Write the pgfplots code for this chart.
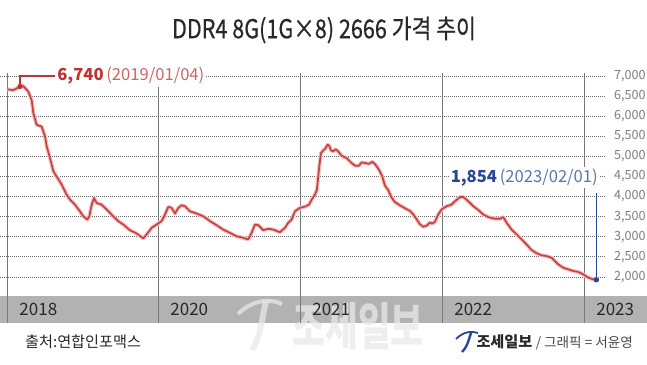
\documentclass[border=0pt]{standalone}
\usepackage{fontspec}
\setmainfont{Noto Sans CJK KR}
\newfontfamily\titlefont[FakeBold=0.6]{Noto Sans CJK KR}
\usepackage{pgfplots}
\usepackage{pgfplotstable}
\pgfplotsset{compat=1.18}
\definecolor{linered}{RGB}{200,65,65}
\definecolor{glow}{RGB}{242,195,195}
\definecolor{annred}{RGB}{190,50,50}
\definecolor{annblue}{RGB}{40,70,150}
\definecolor{bandgray}{RGB}{178,178,178}
\definecolor{vgray}{RGB}{120,120,120}
\definecolor{dotgray}{RGB}{105,105,105}
\definecolor{tickgray}{RGB}{125,125,125}
\definecolor{textdark}{RGB}{40,40,40}

\pgfplotstableread{
year price
2018.937 6669
2018.979 6650
2019.002 6690
2019.026 6740
2019.049 6750
2019.085 6610
2019.108 6400
2019.120 6075
2019.143 5785
2019.178 5745
2019.202 5500
2019.214 5250
2019.237 4960
2019.261 4630
2019.284 4500
2019.319 4300
2019.354 4050
2019.378 3925
2019.413 3800
2019.448 3635
2019.472 3510
2019.500 3430
2019.514 3510
2019.531 3800
2019.547 3965
2019.566 3840
2019.601 3800
2019.636 3680
2019.683 3510
2019.718 3390
2019.754 3305
2019.800 3165
2019.847 3085
2019.871 3020
2019.894 2960
2019.918 3060
2019.953 3225
2019.988 3305
2020.023 3390
2020.047 3555
2020.070 3745
2020.094 3720
2020.117 3580
2020.141 3720
2020.164 3785
2020.188 3760
2020.223 3635
2020.270 3580
2020.317 3510
2020.364 3390
2020.410 3290
2020.457 3180
2020.504 3100
2020.551 3015
2020.598 2975
2020.633 2935
2020.657 3100
2020.680 3305
2020.704 3290
2020.739 3165
2020.774 3200
2020.810 3180
2020.856 3115
2020.892 3225
2020.915 3350
2020.939 3430
2020.962 3635
2020.997 3720
2021.033 3750
2021.061 3800
2021.080 3925
2021.103 4050
2021.117 4170
2021.131 4670
2021.145 5080
2021.162 5150
2021.178 5205
2021.192 5290
2021.204 5265
2021.216 5150
2021.232 5125
2021.248 5180
2021.267 5125
2021.291 5015
2021.326 4960
2021.361 4835
2021.385 4770
2021.413 4770
2021.432 4850
2021.460 4835
2021.483 4815
2021.507 4865
2021.525 4815
2021.554 4670
2021.577 4505
2021.596 4275
2021.619 4165
2021.643 3975
2021.666 3865
2021.701 3785
2021.737 3710
2021.772 3645
2021.795 3560
2021.819 3440
2021.842 3315
2021.866 3250
2021.889 3275
2021.913 3355
2021.929 3330
2021.948 3370
2021.971 3555
2021.995 3680
2022.030 3760
2022.065 3800
2022.089 3885
2022.125 3990
2022.148 3990
2022.183 3885
2022.219 3760
2022.254 3665
2022.289 3555
2022.324 3490
2022.371 3450
2022.406 3450
2022.430 3490
2022.453 3350
2022.488 3180
2022.524 3060
2022.559 2935
2022.594 2810
2022.629 2670
2022.665 2590
2022.700 2540
2022.735 2520
2022.770 2480
2022.794 2395
2022.817 2315
2022.852 2230
2022.888 2190
2022.923 2150
2022.958 2125
2022.993 2065
2023.028 1985
2023.064 1940
2023.085 1930
}\pricedata

\begin{document}
\begin{tikzpicture}[x=0.5pt,y=0.5pt]
\useasboundingbox (0,0) rectangle (647,364);
% gray band
\fill[bandgray] (0,41) rectangle (647,68);
% watermark (behind axis content)
\node[text=white!82!gray, opacity=0.75, font=\fontsize{17}{17}\selectfont\bfseries] at (358,38) {\scalebox{1.05}[1.5]{조세일보}};
\draw[white!82!gray, opacity=0.75, line width=3pt] (252,14) .. controls (262,30) and (262,50) .. (266,62);
\draw[white!82!gray, opacity=0.75, line width=2pt] (238,50) .. controls (252,64) and (270,66) .. (282,60);
% title
\node[textdark, font=\titlefont\fontsize{13}{15}\selectfont] at (324,334) {\scalebox{0.83}[1]{DDR4 8G(1G×8) 2666 가격 추이}};

\begin{axis}[
  at={(0pt,20.5pt)}, anchor=south west,
  scale only axis, width=302.5pt, height=125pt,
  xmin=2018.885, xmax=2023.146,
  ymin=856, ymax=7075,
  clip=false,
  axis line style={draw=none},
  major tick length=0pt,
  xtick={2018.937,2020,2021,2022,2023},
  xticklabels={},
  xmajorgrids,
  x grid style={vgray, line width=0.5pt},
  ytick={2000,2500,...,7000},
  ymajorgrids,
  y grid style={dotgray, line width=0.5pt, dash pattern=on 0.5pt off 0.5pt},
  yticklabel pos=right,
  yticklabel style={tickgray, font=\fontsize{6.3}{7}\selectfont, anchor=west, xshift=1pt},
  /pgf/number format/.cd, fixed, precision=0, 1000 sep={,}, assume math mode=true,
]
\addplot[glow, line width=2pt, line join=round] table[x=year,y=price] {\pricedata};
\addplot[linered, line width=0.85pt, line join=round] table[x=year,y=price] {\pricedata};

% red annotation
\draw[annred, line width=0.6pt] (axis cs:2019.026,6740) -- (axis cs:2019.026,7000) -- (axis cs:2019.272,7000);
\node[anchor=west, fill=white, inner sep=1pt, font=\fontsize{8.3}{9}\selectfont] at (axis cs:2019.272,7000)
  {\textcolor{annred}{\bfseries 6,740}\,\textcolor{annred!75}{(2019/01/04)}};
\addplot[only marks, mark=*, mark size=1.1pt, annred] coordinates {(2019.026,6740)};

% blue annotation
\draw[annblue, line width=0.6pt] (axis cs:2023.085,1930) -- (axis cs:2023.085,4090);
\node[anchor=east, fill=white, inner sep=1pt, font=\fontsize{8.3}{9}\selectfont] at (axis cs:2023.112,4470)
  {\textcolor{annblue}{\bfseries 1,854}\,\textcolor{annblue!75}{(2023/02/01)}};
\addplot[only marks, mark=*, mark size=1.1pt, annblue] coordinates {(2023.085,1930)};

% year labels in band
\foreach \xx/\lab in {2018.937/2018, 2020/2020, 2021/2021, 2022/2022, 2023/2023}{
  \edef\tmp{\noexpand\node[anchor=west, textdark, xshift=2.5pt, font=\noexpand\fontsize{8.5}{9}\noexpand\selectfont] at (axis cs:\xx,1204) {\lab};}
  \tmp
}
\end{axis}

% footer
\node[anchor=west, textdark, font=\fontsize{7.6}{9}\selectfont] at (18,22) {출처:연합인포맥스};
\draw[annblue, line width=1.2pt] (462,12) .. controls (468,18) and (469,26) .. (471,31);
\draw[annblue, line width=0.9pt] (456,25) .. controls (464,33) and (472,33) .. (478,31);
\node[anchor=east, font=\fontsize{7.6}{9}\selectfont] at (640,22)
  {\textcolor{textdark}{\bfseries 조세일보}\ \textcolor{textdark!85}{\fontsize{6.8}{8}\selectfont / 그래픽 = 서윤영}};
\end{tikzpicture}
\end{document}
